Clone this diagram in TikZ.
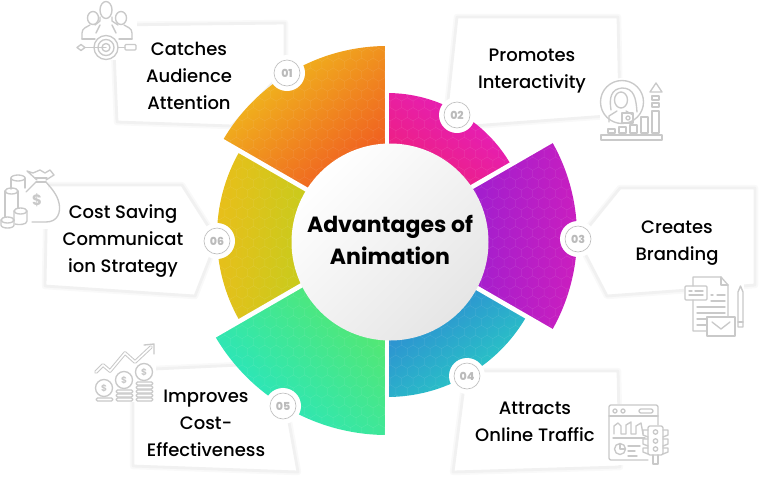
\documentclass[tikz,border=0pt]{standalone}
\usepackage{fontspec}
\setmainfont{Poppins}
\newfontfamily\labelfont{Poppins Medium}
\newfontfamily\badgefont{Poppins ExtraBold}
\definecolor{boxgrey}{HTML}{F1F1F1}
\definecolor{boxhalo}{HTML}{F9F9F9}
\definecolor{icongrey}{HTML}{C9C9C9}
\definecolor{badgegrey}{HTML}{BBBBBB}
\tikzset{
  labelbox/.style={fill=white, draw=boxgrey, line width=2.8pt, line join=round, preaction={draw=boxhalo, line width=6.5pt, line join=round}},
  labeltext/.style={align=center, font=\labelfont\fontsize{18}{27}\selectfont},
  badge/.style={circle, fill=white, draw=badgegrey, line width=.6pt, minimum size=26pt, inner sep=0pt, font=\badgefont\fontsize{11}{11}\selectfont, text=badgegrey},
  iconline/.style={draw=icongrey, line width=1.35pt, line join=round, line cap=round},
  iconmark/.style={text=icongrey, font=\bfseries\fontsize{9}{9}\selectfont, inner sep=0pt}
}
\newcommand{\sectorpath}[3]{(387,236) -- ++(#1:#3) arc (#1:#2:#3) -- cycle}
\begin{document}
\begin{tikzpicture}[x=1pt,y=-1pt]
  \useasboundingbox (0,0) rectangle (771,488);
  % label panels behind the ring
  \draw[labelbox] (113,25) -- (285,23) -- (285,70) -- (232,126) -- (117,122) -- cycle;
  \draw[labelbox] (457,17) -- (618,17) -- (620,115) -- (445,128) -- cycle;
  \draw[labelbox] (620,188) -- (755,188) -- (755,285) -- (607,296) -- (578,240) -- cycle;
  \draw[labelbox] (466,371) -- (618,371) -- (620,467) -- (453,472) -- cycle;
  \draw[labelbox] (133,370) -- (240,365) -- (285,400) -- (298,472) -- (133,466) -- cycle;
  \draw[labelbox] (47,185) -- (182,185) -- (217,240) -- (195,296) -- (45,286) -- cycle;
  % ring sectors
  \shade[left color={rgb,255:red,240;green,192;blue,28}, right color={rgb,255:red,240;green,70;blue,34}, shading angle=40] \sectorpath{210}{270}{190};
  \shade[left color={rgb,255:red,228;green,30;blue,190}, right color={rgb,255:red,242;green,32;blue,100}, shading angle=-35] \sectorpath{270}{330}{143};
  \shade[left color={rgb,255:red,130;green,30;blue,218}, right color={rgb,255:red,205;green,30;blue,190}, shading angle=85] \sectorpath{-30}{30}{190};
  \shade[left color={rgb,255:red,48;green,112;blue,218}, right color={rgb,255:red,40;green,205;blue,195}, shading angle=35] \sectorpath{30}{90}{161};
  \shade[left color={rgb,255:red,94;green,232;blue,96}, right color={rgb,255:red,38;green,230;blue,195}, shading angle=-45] \sectorpath{90}{150}{199};
  \shade[left color={rgb,255:red,234;green,190;blue,26}, right color={rgb,255:red,172;green,214;blue,30}, shading angle=85] \sectorpath{150}{210}{170};
  % honeycomb texture on the sectors
  \begin{scope}
    \clip \sectorpath{210}{270}{190} \sectorpath{270}{330}{143} \sectorpath{-30}{30}{190}
          \sectorpath{30}{90}{161} \sectorpath{90}{150}{199} \sectorpath{150}{210}{170};
    \foreach \i in {0,...,36} \foreach \j in {0,...,41} {
      \pgfmathsetmacro{\hx}{185+\i*11.4+mod(\j,2)*5.7}
      \pgfmathsetmacro{\hy}{35+\j*9.9}
      \draw[white, opacity=.05, line width=.5pt] (\hx,\hy-6.6) -- (\hx+5.7,\hy-3.3) -- (\hx+5.7,\hy+3.3) -- (\hx,\hy+6.6) -- (\hx-5.7,\hy+3.3) -- (\hx-5.7,\hy-3.3) -- cycle;
    }
  \end{scope}
  % gaps between the sectors
  \coordinate (hub) at (387,236);
  \foreach \a in {30,90,150,210,270,330}
    \draw[white, line width=4.6pt] (hub) -- ++(\a:201);
  % centre disc
  \shade[left color=white, right color=black!10, shading angle=45] (390,242) circle (98.5);
  \node[align=center, font=\bfseries\fontsize{22}{32}\selectfont] (title) at (390,240) {Advantages of\\Animation};
  % labels
  \node[labeltext] (catches) at (189,76) {Catches\\Audience\\Attention};
  \node[labeltext] (promotes) at (532,71) {Promotes\\Interactivity};
  \node[labeltext] (creates) at (677,243) {Creates\\Branding};
  \node[labeltext] (attracts) at (535,422) {Attracts\\Online Traffic};
  \node[labeltext] (improves) at (206,423) {Improves\\Cost-\\Effectiveness};
  \node[labeltext] (costsaving) at (123,241) {Cost Saving\\Communicat\\ion Strategy};
  % numbered badges
  \foreach \name/\pos/\num in {one/{287,73}/01, two/{457,115}/02, three/{578,239}/03, four/{467,376}/04, five/{283,406}/05, six/{217,241}/06} {
    \fill[white] (\pos) circle (18);
    \node[badge] (badge\name) at (\pos) {\num};
  }
  % icon of the audience and target
  \fill[white] (76,0) rectangle (137,60);
  \begin{scope}[iconline]
    \draw (106,47.5) circle (12) circle (8) circle (4);
    \draw (77,47.5) -- (81,44.5) -- (85,47.5) -- (81,50.5) -- cycle;
    \draw (85,47.5) -- (106,47.5) (118,47.5) -- (125,47.5);
    \draw[rounded corners=1pt] (125,44.5) rectangle (136,50);
    \draw (106,10) ellipse (6 and 8.5);
    \draw (93,18) ellipse (5.5 and 6.5);
    \draw (121,18) ellipse (5.5 and 6.5);
    \draw (82,39) -- (82,33) .. controls (82,28) and (87,27) .. (90,25);
    \draw (132,39) -- (132,33) .. controls (132,28) and (127,27) .. (124,25);
    \draw (100,17) -- (100,21) -- (95,25) (112,17) -- (112,21) -- (118,25);
    \draw (82,39) -- (95,39) (119,39) -- (132,39);
    \draw (100,25) -- (96,33) (112,25) -- (116,33);
  \end{scope}
  % icon of the person and bars
  \fill[white] (622,102) circle (24);
  \fill[white] (600,80) rectangle (664,142);
  \begin{scope}[iconline]
    \draw (622,102) circle (21.5);
    \draw (611,110) .. controls (609,98) and (611,89) .. (622,88) .. controls (634,88) and (636,98) .. (637,112);
    \draw (621,100) ellipse (6.5 and 8);
    \draw (609,122) -- (609,116) -- (617,111) (626,111) -- (633,115);
    \draw (622,113) rectangle (633,123);
    \draw (628,118) circle (2);
    \draw (601,135) rectangle (662,140);
    \draw (608,129) rectangle (615,133);
    \draw (619,127) rectangle (626,133);
    \draw (630,125) rectangle (637,133);
    \draw (641,117) rectangle (648,133);
    \draw (652,111) rectangle (659,133);
    \draw (652,103) rectangle (659,107);
    \draw (652,96) rectangle (659,100);
    \draw (650,92) -- (656,83) -- (662,92) -- cycle;
  \end{scope}
  % icon of the documents
  \fill[white] (684,276) rectangle (744,337);
  \begin{scope}[iconline]
    \draw (693,300) -- (693,331) -- (707,331) (693,286) -- (693,277) -- (721,277) -- (728,285) -- (728,317);
    \draw (721,277) -- (721,285) -- (728,285);
    \draw[rounded corners=1pt] (685,286) rectangle (707,300);
    \draw (689,291) -- (692,291) (695,291) -- (703,291) (689,295) -- (703,295);
    \draw (711,295) -- (713,295) (717,295) -- (725,295) (711,301) -- (725,301);
    \draw (697,307) -- (725,307) (697,313) -- (725,313) (697,319) -- (707,319) (697,325) -- (707,325);
    \draw (707,317) rectangle (735,336);
    \draw (712,322) -- (721,329) -- (730,322);
    \draw (738,327) -- (738,292) -- (740.5,286) -- (743,292) -- (743,327) -- cycle;
    \draw (738,322) -- (743,322);
  \end{scope}
  % icon of the dashboard and traffic light
  \fill[white] (608,404) rectangle (669,465);
  \begin{scope}[iconline]
    \draw[rounded corners=2pt] (648,460) -- (609,460) -- (609,405) -- (658,405) -- (658,425);
    \draw (609,416) -- (658,416);
    \draw (615,411) circle (2) (623,411) circle (2);
    \draw[rounded corners=2pt] (639,409) rectangle (653,413);
    \draw (614,434) -- (614,426) -- (618,423) -- (621,426) -- (621,434) -- (626,434) -- (626,425) -- (631,422) -- (631,434) -- (636,434) -- (636,426) -- (641,423) -- (643,434);
    \draw (613,438) -- (645,438);
    \draw (620,449) circle (5.5);
    \draw (620,449) -- (620,444) (620,449) -- (625,449);
    \draw (628,446) -- (640,446) (628,451) -- (635,451) (628,456) -- (637,456);
    \draw[rounded corners=2pt] (648,426) rectangle (663,455);
    \draw (653,455) -- (653,464) -- (658,464) -- (658,455);
    \draw (655.5,432) circle (2.2) (655.5,441) circle (2.2) (655.5,449) circle (2.2);
    \draw (648,430) -- (643,430) -- (643,435) -- (648,437);
    \draw (663,430) -- (668,430) -- (668,435) -- (663,437);
    \draw (648,439) -- (643,439) -- (643,444) -- (648,446);
    \draw (663,439) -- (668,439) -- (668,444) -- (663,446);
    \draw (648,448) -- (643,448) -- (643,452) -- (648,454);
    \draw (663,448) -- (668,448) -- (668,452) -- (663,454);
  \end{scope}
  % icon of the coins and rising arrow
  \fill[white] (94,342) rectangle (156,402);
  \begin{scope}[iconline]
    \draw[line width=1pt, double=white, double distance=1.6pt] (96,372) -- (103,365) -- (110,371) -- (125,353) -- (135,362) -- (151,347);
    \draw (144,345) -- (154,344) -- (154,354);
    \draw (104,388) circle (8.5) (124,380) circle (8.5) (144,372) circle (8.5);
    \draw[rounded corners=1.5pt] (96,398) rectangle (113,401);
    \foreach \rowy in {390,394,398} \draw[rounded corners=1.5pt] (116,\rowy) rectangle (133,\rowy+3);
    \foreach \rowy in {382,386,390,394,398} \draw[rounded corners=1.5pt] (136,\rowy) rectangle (153,\rowy+3);
  \end{scope}
  \node[iconmark] (dollara) at (104,388) {\$};
  \node[iconmark] (dollarb) at (124,380) {\$};
  \node[iconmark] (dollarc) at (144,372) {\$};
  % icon of the money bag and stacks
  \fill[white] (0,172) rectangle (48,229);
  \fill[white] (48,190) rectangle (62,224);
  \begin{scope}[iconline]
    \draw (32,222) -- (46,222) .. controls (58,222) and (61,212) .. (59,203) .. controls (57,194) and (51,188) .. (46,182);
    \draw (36,182) -- (46,182) (35,178) -- (47,178);
    \draw (37,180) -- (27,171) -- (33,173) -- (40,170) -- (45,173) -- (50,170) -- (54,175) -- (46,180);
    \draw (36,182) -- (26,192);
    \draw (11,189) -- (11,178) (25,178) -- (25,188);
    \draw (18,178) ellipse (7 and 3);
    \draw (5,191) -- (5,217) (18,191) -- (18,208);
    \draw (11.5,191) ellipse (6.5 and 3);
    \draw (14,211) -- (14,221) (27,211) -- (27,221) .. controls (27,225) and (18,225) .. (15,224);
    \draw (20.5,211) ellipse (6.5 and 3);
    \draw (1,220) -- (1,225) .. controls (1,229) and (14,229) .. (14,225) -- (14,220);
    \draw (7.5,220) ellipse (6.5 and 3);
  \end{scope}
  \node[iconmark, font=\bfseries\fontsize{15}{15}\selectfont] (dollarbag) at (37,200) {\$};
\end{tikzpicture}
\end{document}
